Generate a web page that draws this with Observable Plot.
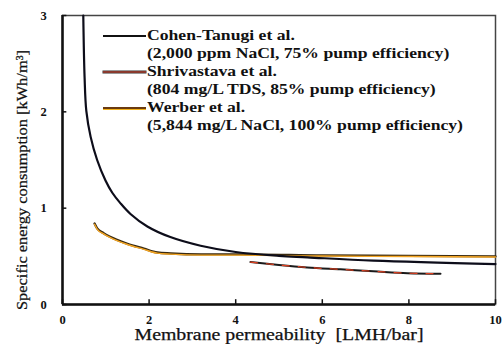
<!DOCTYPE html>
<html><head><meta charset="utf-8">
<script src="https://cdn.jsdelivr.net/npm/d3@7"></script>
<script src="https://cdn.jsdelivr.net/npm/@observablehq/plot@0.6"></script>
<style>
body{margin:0;background:#fff;}
#wrap{position:relative;width:503px;height:344px;}
#wrap svg text{font-family:'Liberation Serif',serif !important;}
#legend{position:absolute;left:103px;top:27px;font-family:'Liberation Serif',serif;font-weight:bold;font-size:15px;line-height:17.5px;color:#111;}
.item{position:relative;height:17px;margin-bottom:19px;}
.sw{position:absolute;left:0;top:8px;width:43px;height:2px;}
.txt{position:absolute;left:44px;top:0;transform-origin:0 0;white-space:nowrap;}
.txt span{display:inline-block;}
</style></head>
<body><div id="wrap"><div id="legend"></div></div>
<script>
const seriesNames = ["Cohen-Tanugi et al.", "Shrivastava et al.", "Werber et al."];
const seriesNotes = ["(2,000 ppm NaCl, 75% pump efficiency)", "(804 mg/L TDS, 85% pump efficiency)", "(5,844 mg/L NaCl, 100% pump efficiency)"];
const cohenX = [0.48,0.51,0.55,0.65,0.80,0.99,1.15,1.34,1.57,1.96,2.49,3.19,4.0,5.0,5.65,7.18,10];
const cohenY = [3.0,2.36,2.01,1.74,1.50,1.29,1.16,1.05,0.94,0.81,0.70,0.61,0.545,0.505,0.49,0.455,0.42];
const shriX = [4.34,5.0,5.65,6.42,7.18,7.97,8.73];
const shriY = [0.44,0.41,0.385,0.365,0.345,0.325,0.32];
const werberX = [0.74,0.8,0.95,1.26,1.5,1.88,2.19,2.5,3.2,4.1,6,8,10];
const werberY = [0.84,0.79,0.74,0.67,0.63,0.58,0.54,0.53,0.52,0.52,0.51,0.505,0.50];
const xTicks = [0,2,4,6,8,10];
const yTicks = [0,1,2,3];
const xLabel = "Membrane permeability  [LMH/bar]";
const yLabel = "Specific energy consumption [kWh/m³]";

const toRows = (xs, ys) => xs.map((x,i)=>({x, y: ys[i]}));
const cohen = toRows(cohenX, cohenY);
const shri = toRows(shriX, shriY);
const werber = toRows(werberX, werberY);

const chart = Plot.plot({
  width: 503, height: 344,
  marginLeft: 62, marginRight: 8, marginTop: 15, marginBottom: 40,
  style: {background: "white", color: "#111"},
  x: {domain: [0,10], axis: null},
  y: {domain: [0,3], axis: null},
  marks: [
    Plot.frame({stroke: "#444", strokeWidth: 1.5}),
    Plot.ruleX([0], {stroke: "#111", strokeWidth: 2.5}),
    Plot.ruleY([0], {stroke: "#111", strokeWidth: 2.5}),
    Plot.ruleY(yTicks, {x1: 0, x2: 0.1, stroke: "#111", strokeWidth: 1.5}),
    Plot.ruleX(xTicks, {y1: 0, y2: 0.05, stroke: "#111", strokeWidth: 1.5}),
    Plot.text(xTicks, {x: d => d, frameAnchor: "bottom", dy: 15, lineAnchor: "middle", fontSize: 12.5, fontWeight: "bold", fill: "#111"}),
    Plot.text(yTicks, {y: d => d, frameAnchor: "left", dx: -19, textAnchor: "middle", lineAnchor: "middle", fontSize: 12.5, fontWeight: "bold", fill: "#111"}),
    Plot.text([xLabel], {frameAnchor: "bottom", dy: 30, lineAnchor: "middle", fontSize: 16, fill: "#111", stroke: "#111", strokeWidth: 0.25, className: "xlab"}),
    Plot.text([yLabel], {frameAnchor: "left", rotate: -90, dx: -40, textAnchor: "middle", lineAnchor: "middle", fontSize: 15.5, fill: "#111", stroke: "#111", strokeWidth: 0.25, className: "ylab"}),
    Plot.line(werber, {x: "x", y: "y", stroke: "#3a2a10", strokeWidth: 2.4, curve: "monotone-x"}),
    Plot.line(werber, {x: "x", y: "y", stroke: "#f5a623", strokeWidth: 1.4, dy: 0.7, curve: "monotone-x"}),
    Plot.line(shri, {x: "x", y: "y", stroke: "#1a1a1a", strokeWidth: 2, curve: "monotone-x"}),
    Plot.line(shri, {x: "x", y: "y", stroke: "#e04020", strokeWidth: 1.2, strokeDasharray: "7,9", curve: "monotone-x"}),
    Plot.line(cohen, {x: "x", y: "y", stroke: "#0d0d1a", strokeWidth: 2.2, curve: "catmull-rom"})
  ]
});
document.getElementById("wrap").prepend(chart);

// stretch axis titles to the reference's text lengths
const xl = chart.querySelector(".xlab text");
xl.setAttribute("textLength", 289); xl.setAttribute("lengthAdjust", "spacingAndGlyphs");
const yl = chart.querySelector(".ylab text");
yl.setAttribute("textLength", 260); yl.setAttribute("lengthAdjust", "spacingAndGlyphs");
const yg = yl.parentNode;
yg.setAttribute("transform", ((yg.getAttribute("transform") || "") + " translate(0,20)").trim());

const swatches = [
  "background:#111;",
  "background:#8a3a2e;box-shadow:0 0 0 0.5px #333;",
  "background:#6a3a10;border-bottom:1px solid #f2b21c;height:1.5px;"
];
const leg = document.getElementById("legend");
const txts = [];
seriesNames.forEach((n,i)=>{
  const d = document.createElement("div");
  d.className = "item";
  d.innerHTML = `<span class="sw" style="${swatches[i]}"></span><div class="txt"><span>${n}</span><br><span class="note">${seriesNotes[i]}</span></div>`;
  leg.appendChild(d);
  txts.push(d.querySelector(".txt"));
});
const widest = Math.max(...[...leg.querySelectorAll(".note")].map(s => s.getBoundingClientRect().width));
const k = 316 / widest;
txts.forEach(t => t.style.transform = `scaleX(${k})`);
</script></body></html>
